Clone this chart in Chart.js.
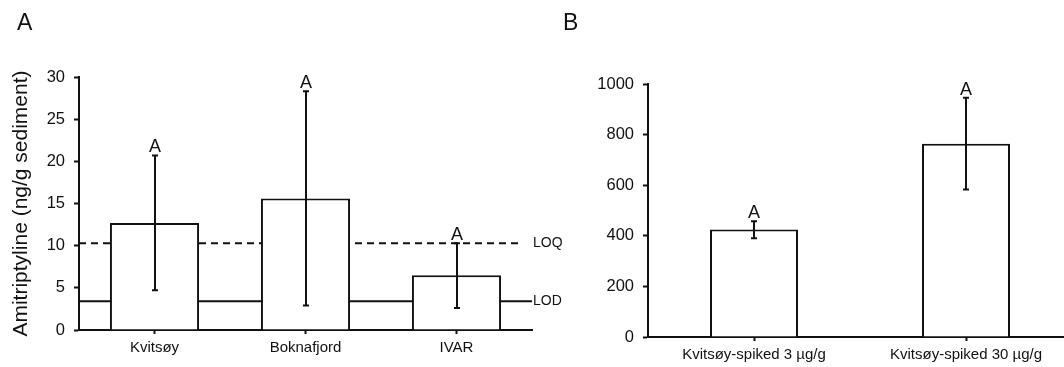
<!DOCTYPE html>
<html>
<head>
<meta charset="utf-8">
<script src="https://cdn.jsdelivr.net/npm/chart.js@4.4.1/dist/chart.umd.min.js"></script>
<style>
html, body { margin: 0; padding: 0; background: #fff; overflow: hidden; width: 1064px; height: 367px; }
#graphA { position: absolute; left: 0; top: 0; }
#graphB { position: absolute; left: 560px; top: 0; }
</style>
</head>
<body>
<canvas id="graphA" width="580" height="367"></canvas>
<canvas id="graphB" width="520" height="367"></canvas>
<script>
// panel A - field sediments
const sitesA = ['Kvitsøy', 'Boknafjord', 'IVAR'];
const meanA = [12.7, 15.6, 6.5];
const lowA = [4.7, 2.9, 2.6];
const highA = [20.7, 28.3, 10.3];
const groupsA = ['A', 'A', 'A'];
const LOQ = 10.3;
const LOD = 3.4;

// panel B - spiked sediments
const sitesB = ['Kvitsøy-spiked 3 µg/g', 'Kvitsøy-spiked 30 µg/g'];
const meanB = [425, 764];
const lowB = [390, 583];
const highB = [458, 946];
const groupsB = ['A', 'A'];

const ink = '#111';
const fam = '"Liberation Sans", Arial, sans-serif';

// error bars + letters above them
function errorBars(low, high, groups) {
    return {
        id: 'errorBars',
        afterDatasetsDraw(chart) {
            const ctx = chart.ctx;
            const x = chart.scales.x;
            const y = chart.scales.y;
            ctx.save();
            ctx.strokeStyle = ink;
            ctx.fillStyle = ink;
            ctx.lineWidth = 2;
            ctx.font = '18px ' + fam;
            ctx.textAlign = 'center';
            ctx.textBaseline = 'bottom';
            low.forEach((lo, i) => {
                const px = Math.round(x.getPixelForValue(i));
                const top = y.getPixelForValue(high[i]);
                const bot = y.getPixelForValue(lo);
                ctx.beginPath();
                ctx.moveTo(px, top); ctx.lineTo(px, bot);
                ctx.moveTo(px - 3, top); ctx.lineTo(px + 3, top);
                ctx.moveTo(px - 3, bot); ctx.lineTo(px + 3, bot);
                ctx.stroke();
                ctx.fillText(groups[i], px, top + 1);
            });
            ctx.restore();
        }
    };
}

function panelLetter(letter, px) {
    return {
        id: 'panelLetter',
        afterDraw(chart) {
            const ctx = chart.ctx;
            ctx.save();
            ctx.fillStyle = ink;
            ctx.font = '23px ' + fam;
            ctx.textBaseline = 'alphabetic';
            ctx.fillText(letter, px, 30);
            ctx.restore();
        }
    };
}

// LOQ / LOD lines sit behind the bars
const limitLines = {
    id: 'limitLines',
    beforeDatasetsDraw(chart) {
        const ctx = chart.ctx;
        const a = chart.chartArea;
        const y = chart.scales.y;
        const yq = y.getPixelForValue(LOQ);
        const yd = y.getPixelForValue(LOD);
        ctx.save();
        ctx.strokeStyle = ink;
        ctx.lineWidth = 2;
        ctx.setLineDash([7, 5]);
        ctx.beginPath();
        ctx.moveTo(a.left, yq); ctx.lineTo(a.right - 9, yq);
        ctx.stroke();
        ctx.setLineDash([]);
        ctx.beginPath();
        ctx.moveTo(a.left, yd); ctx.lineTo(a.right, yd);
        ctx.stroke();
        ctx.restore();
    },
    afterDraw(chart) {
        const ctx = chart.ctx;
        const a = chart.chartArea;
        const y = chart.scales.y;
        ctx.save();
        ctx.fillStyle = ink;
        ctx.font = '14px ' + fam;
        ctx.textBaseline = 'middle';
        ctx.fillText('LOQ', a.right + 1, y.getPixelForValue(LOQ));
        ctx.fillText('LOD', a.right + 1, y.getPixelForValue(LOD));
        ctx.restore();
    }
};

function axes(max, step, yWidth, xHeight, title) {
    return {
        x: {
            ticks: { font: { size: 15, family: fam }, color: ink, padding: 5, maxRotation: 0, autoSkip: false },
            grid: { offset: false, drawOnChartArea: false, tickLength: 4, tickColor: ink, tickWidth: 2 },
            border: { color: ink, width: 2 },
            afterFit: s => { s.height = xHeight; }
        },
        y: {
            min: 0,
            max: max,
            ticks: {
                stepSize: step,
                font: { size: 16.5, family: fam },
                color: ink,
                padding: 9,
                callback: v => String(v)
            },
            grid: { drawOnChartArea: false, tickLength: 5, tickColor: ink, tickWidth: 2 },
            border: { color: ink, width: 2 },
            title: {
                display: !!title,
                text: title,
                font: { size: 21, family: fam },
                color: ink,
                padding: { top: 9, bottom: 0 }
            },
            afterFit: s => { s.width = yWidth; }
        }
    };
}

const barStyle = {
    backgroundColor: '#fff',
    borderColor: ink,
    borderWidth: 2,
    barPercentage: 1
};

new Chart(document.getElementById('graphA'), {
    type: 'bar',
    data: {
        labels: sitesA,
        datasets: [Object.assign({ data: meanA, categoryPercentage: 0.59 }, barStyle)]
    },
    options: {
        responsive: false,
        animation: false,
        layout: { padding: { left: 0, top: 77, right: 48, bottom: 0 } },
        scales: axes(30, 5, 79, 37, 'Amitriptyline (ng/g sediment)'),
        plugins: { legend: { display: false }, tooltip: { enabled: false } }
    },
    plugins: [limitLines, errorBars(lowA, highA, groupsA), panelLetter('A', 17)]
});

new Chart(document.getElementById('graphB'), {
    type: 'bar',
    data: {
        labels: sitesB,
        datasets: [Object.assign({ data: meanB, categoryPercentage: 0.415 }, barStyle)]
    },
    options: {
        responsive: false,
        animation: false,
        layout: { padding: { left: 0, top: 84, right: 8, bottom: 0 } },
        scales: axes(1000, 200, 88, 30, ''),
        plugins: { legend: { display: false }, tooltip: { enabled: false } }
    },
    plugins: [errorBars(lowB, highB, groupsB), panelLetter('B', 3)]
});
</script>
</body>
</html>
